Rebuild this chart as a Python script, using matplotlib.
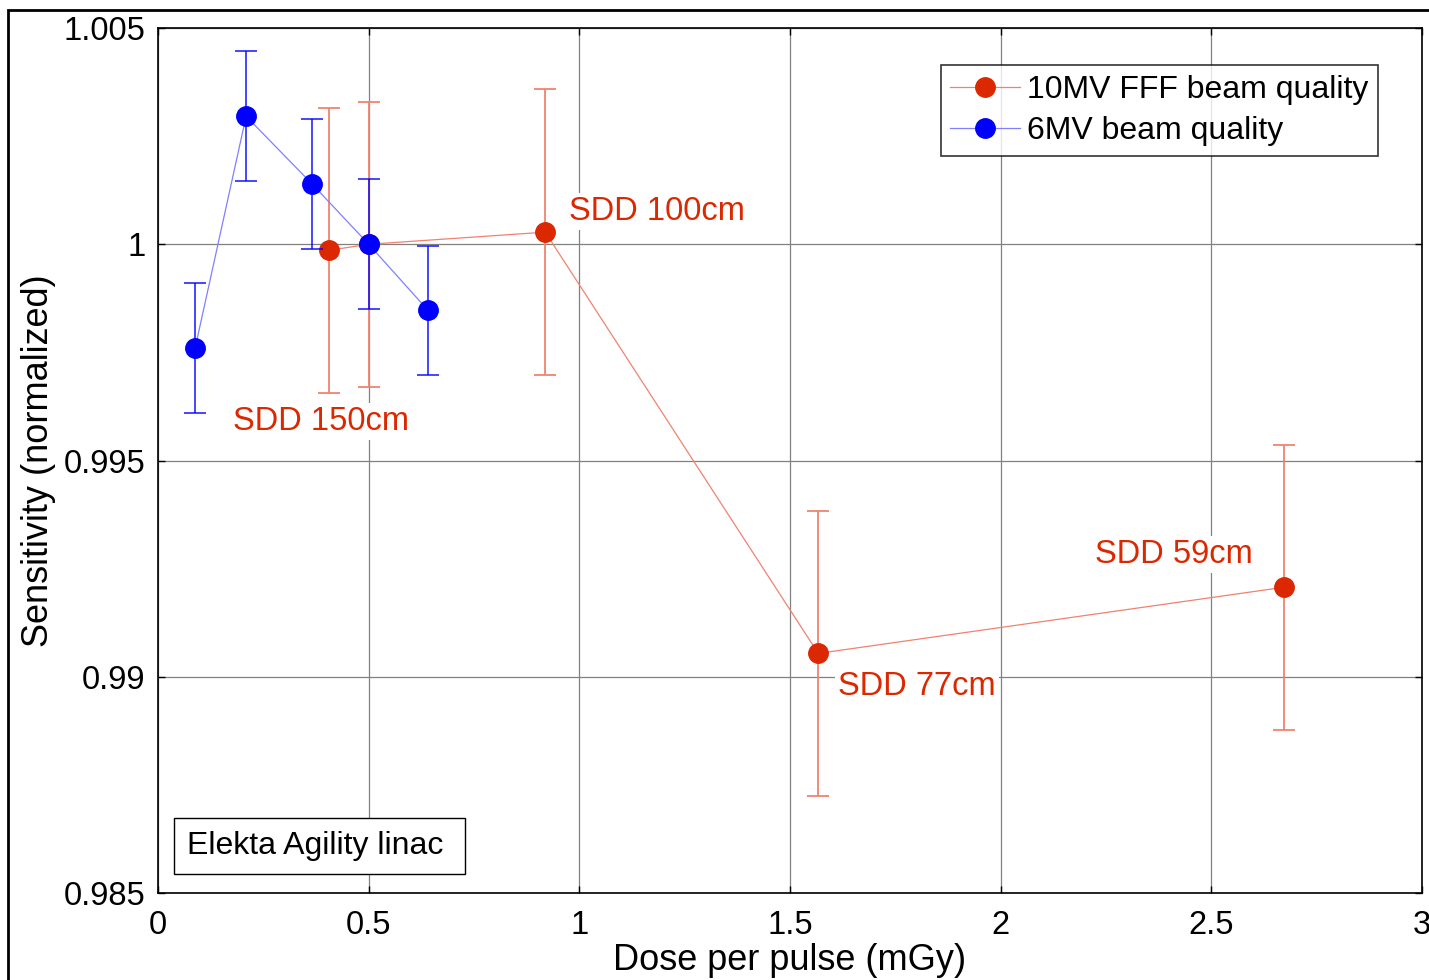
from matplotlib import pyplot as plt
from matplotlib.patches import Rectangle

plt.rcParams['font.family'] = ['Liberation Sans', 'DejaVu Sans']

# 10MV FFF beam quality
x_fff = [0.406, 0.5, 0.919, 1.567, 2.673]
y_fff = [0.99986, 1.0, 1.00028, 0.99054, 0.99207]
err_fff = [0.0033, 0.0033, 0.0033, 0.0033, 0.0033]

# 6MV beam quality
x_6mv = [0.088, 0.209, 0.366, 0.5, 0.641]
y_6mv = [0.9976, 1.00296, 1.00139, 1.0, 0.99847]
err_6mv = [0.0015, 0.0015, 0.0015, 0.0015, 0.0015]

# SDD labels
sdd_labels = ['SDD 100cm', 'SDD 150cm', 'SDD 77cm', 'SDD 59cm']
sdd_x = [0.975, 0.178, 1.614, 2.224]
sdd_y = [1.00076, 0.99591, 0.98978, 0.99283]

xticks = [0, 0.5, 1, 1.5, 2, 2.5, 3]
xtick_labels = ['0', '0.5', '1', '1.5', '2', '2.5', '3']
yticks = [0.985, 0.99, 0.995, 1.0, 1.005]
ytick_labels = ['0.985', '0.99', '0.995', '1', '1.005']

red = '#DC2800'
red_light = '#F08270'
blue = '#0000FF'
blue_light = '#8080FF'

fig = plt.figure(figsize=(14.29, 9.8), dpi=100)
ax = fig.add_axes([0.1106, 0.0888, 0.8845, 0.8826])

# error bars + lines
ax.errorbar(x_fff, y_fff, yerr=err_fff, fmt='none', ecolor=red_light,
            elinewidth=1.3, capsize=8, capthick=1.3, zorder=3)
ax.plot(x_fff, y_fff, color=red_light, linewidth=0.9, marker='o',
        markersize=14, markerfacecolor=red, markeredgecolor=red,
        label='10MV FFF beam quality', zorder=4)

ax.errorbar(x_6mv, y_6mv, yerr=err_6mv, fmt='none', ecolor=blue,
            elinewidth=1.2, capsize=8, capthick=1.2, alpha=0.85, zorder=5)
ax.plot(x_6mv, y_6mv, color=blue_light, linewidth=0.9, marker='o',
        markersize=14, markerfacecolor=blue, markeredgecolor=blue,
        label='6MV beam quality', zorder=6)

# SDD text, white background over grid
for lab, tx, ty in zip(sdd_labels, sdd_x, sdd_y):
    ax.text(tx, ty, lab, color=red, fontsize=23.5, ha='left', va='center',
            bbox=dict(facecolor='white', edgecolor='none', pad=2), zorder=7)

ax.text(0.023, 0.054, 'Elekta Agility linac ', transform=ax.transAxes,
        fontsize=23, ha='left', va='center',
        bbox=dict(facecolor='white', edgecolor='black', linewidth=1,
                  boxstyle='square,pad=0.4'), zorder=7)

ax.set_xlim(0, 3)
ax.set_ylim(0.985, 1.005)
ax.set_xticks(xticks, xtick_labels)
ax.set_yticks(yticks, ytick_labels)
ax.tick_params(direction='in', top=True, right=True, labelsize=23.5,
               length=5, width=1, pad=9)
ax.tick_params(axis='x', pad=12)
ax.grid(True, color='#808080', linewidth=0.9)
ax.set_axisbelow(True)
for s in ax.spines.values():
    s.set_linewidth(1.2)

ax.set_xlabel('Dose per pulse (mGy)', fontsize=26, labelpad=2)
ax.set_ylabel('Sensitivity (normalized)', fontsize=26, labelpad=5.5)

leg = ax.legend(loc='upper right', bbox_to_anchor=(0.965, 0.957), fontsize=23,
                frameon=True, fancybox=False, edgecolor='black',
                handlelength=2.2, handletextpad=0.2, borderpad=0.3,
                labelspacing=0.35, borderaxespad=0)
leg.get_frame().set_linewidth(1.2)

# outer frame of the figure
fig.patches.append(Rectangle((8 / 1429, -0.2), 1.5, 1.2 - 10 / 980,
                             transform=fig.transFigure, fill=False,
                             edgecolor='black', linewidth=2))

plt.savefig('out.png', dpi=100)
